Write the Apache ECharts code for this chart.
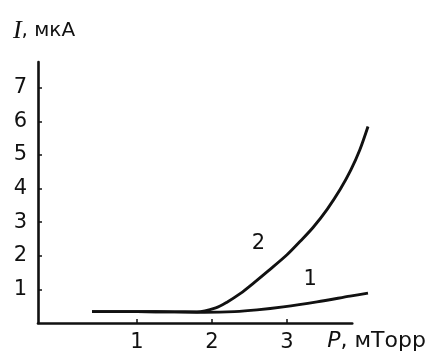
<!DOCTYPE html>
<html>
<head>
<meta charset="utf-8">
<script src="https://cdn.jsdelivr.net/npm/echarts@6/dist/echarts.min.js"></script>
<style>
  html, body { margin: 0; padding: 0; background: #fff; }
  #chart { width: 443px; height: 355px; }
</style>
</head>
<body>
<div id="chart"></div>
<script>
// Ion current I (мкА) versus pressure P (мТорр), two curves
const pressure1 = [0.40, 1.00, 1.50, 1.90, 2.30, 2.60, 2.95, 3.40, 3.84, 4.08];
const current1  = [0.34, 0.34, 0.33, 0.32, 0.34, 0.39, 0.48, 0.63, 0.80, 0.89];

const pressure2 = [0.40, 1.00, 1.50, 1.80, 2.05, 2.20, 2.38, 2.55, 2.75, 3.00, 3.18, 3.35, 3.54, 3.71, 3.85, 3.97, 4.08];
const current2  = [0.34, 0.34, 0.33, 0.33, 0.45, 0.62, 0.88, 1.18, 1.55, 2.03, 2.44, 2.85, 3.40, 3.98, 4.55, 5.15, 5.85];

const xTicks = [1, 2, 3];
const yTicks = [1, 2, 3, 4, 5, 6, 7];

const curveLabels = [
  { name: '1', p: 3.31, i: 1.28 },
  { name: '2', p: 2.62, i: 2.38 }
];

// Axis extents: the drawn axes stop at P = 3.87, the curves run on to P = 4.09
const pMin = -0.32, pAxisEnd = 3.87, pCurveEnd = 4.09;
const iMin = 0, iMax = 7.77;

const zip = (xs, ys) => xs.map((x, k) => [x, ys[k]]);

const ink = '#111';
const font = 'DejaVu Sans';

// Same scale on both grids: 75 px per мТорр
const pxPerUnit = 75;
const gridLeft = 38, gridTop = 62, gridHeight = 261;

const lineSeries = (name, xs, ys) => {
  const lbl = curveLabels.find(c => c.name === name);
  return {
    name,
    type: 'line',
    xAxisIndex: 1,
    yAxisIndex: 1,
    data: zip(xs, ys),
    smooth: 0.3,
    showSymbol: false,
    lineStyle: { color: ink, width: 2.9 },
    markPoint: {
      symbol: 'circle',
      symbolSize: 0,
      data: [{ coord: [lbl.p, lbl.i], value: name }],
      label: {
        show: true,
        position: 'inside',
        formatter: name,
        color: ink,
        fontFamily: font,
        fontSize: 21
      }
    }
  };
};

const chart = echarts.init(document.getElementById('chart'), null, { renderer: 'canvas' });

chart.setOption({
  animation: false,
  backgroundColor: '#fff',
  grid: [
    { left: gridLeft, top: gridTop, width: (pAxisEnd - pMin) * pxPerUnit, height: gridHeight },
    { left: gridLeft, top: gridTop, width: (pCurveEnd - pMin) * pxPerUnit, height: gridHeight }
  ],
  xAxis: [{
    type: 'value',
    gridIndex: 0,
    min: pMin,
    max: pAxisEnd,
    splitLine: { show: false },
    axisLine: { show: true, onZero: false, lineStyle: { color: ink, width: 2.6 } },
    axisTick: { show: true, inside: true, length: 4, customValues: xTicks, lineStyle: { color: ink, width: 1.5 } },
    axisLabel: {
      customValues: xTicks,
      margin: 9,
      color: ink,
      fontFamily: font,
      fontSize: 21
    },
    name: '{p|P}{t|, мТорр}',
    nameLocation: 'end',
    nameGap: -25,
    nameTextStyle: {
      align: 'left',
      verticalAlign: 'top',
      padding: [7, 0, 0, 0],
      rich: {
        p: { fontFamily: font, fontStyle: 'italic', fontSize: 22, color: ink },
        t: { fontFamily: font, fontSize: 22, color: ink }
      }
    }
  }, {
    type: 'value',
    gridIndex: 1,
    min: pMin,
    max: pCurveEnd,
    show: false
  }],
  yAxis: [{
    type: 'value',
    gridIndex: 0,
    min: iMin,
    max: iMax,
    splitLine: { show: false },
    axisLine: { show: true, onZero: false, lineStyle: { color: ink, width: 2.6 } },
    axisTick: { show: true, inside: true, length: 4, customValues: yTicks, lineStyle: { color: ink, width: 1.5 } },
    axisLabel: {
      customValues: yTicks,
      margin: 11,
      color: ink,
      fontFamily: font,
      fontSize: 21
    },
    name: '{i|I}{t|, мкА}',
    nameLocation: 'end',
    nameGap: 18,
    nameTextStyle: {
      align: 'center',
      padding: [0, 0, 0, 12],
      rich: {
        i: { fontFamily: 'Liberation Serif', fontStyle: 'italic', fontSize: 26, color: ink },
        t: { fontFamily: font, fontSize: 20, color: ink }
      }
    }
  }, {
    type: 'value',
    gridIndex: 1,
    min: iMin,
    max: iMax,
    show: false
  }],
  series: [
    lineSeries('1', pressure1, current1),
    lineSeries('2', pressure2, current2)
  ]
});
</script>
</body>
</html>
